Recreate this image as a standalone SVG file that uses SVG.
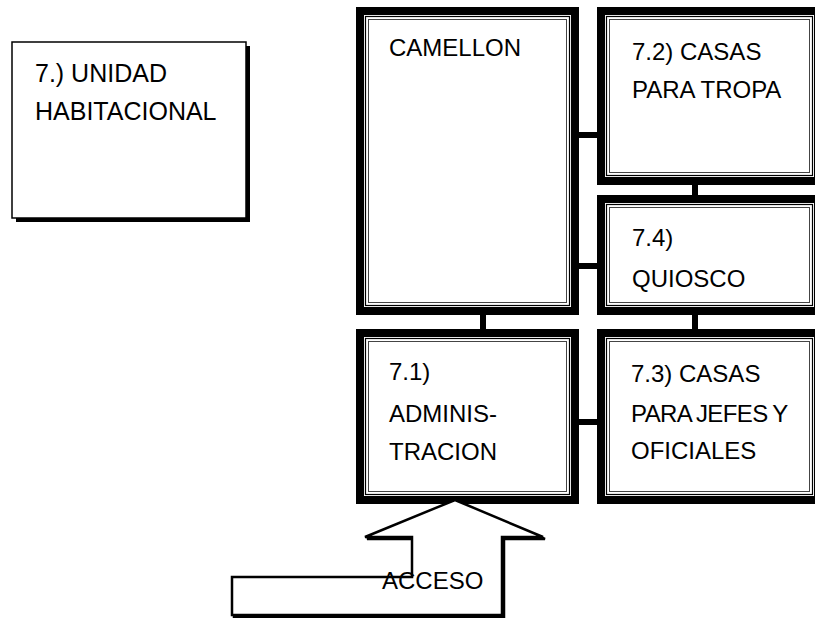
<svg xmlns="http://www.w3.org/2000/svg" width="815" height="618" viewBox="0 0 815 618">
<style>
.thick{fill:#fff;stroke:#000;stroke-width:8}
.thin1{fill:none;stroke:#000;stroke-width:1.2}
.thin2{fill:none;stroke:#444;stroke-width:1}
.t{font-family:"Liberation Sans",Arial,sans-serif;font-size:24px;fill:#000}
.big{font-size:25px}
.conn{stroke:#000;stroke-width:6;fill:none}
</style>
<rect width="815" height="618" fill="#fff"/>
<g id="connectors">
<line class="conn" x1="576" y1="135" x2="600" y2="135"/>
<line class="conn" x1="576" y1="266" x2="600" y2="266"/>
<line class="conn" x1="695" y1="182" x2="695" y2="198"/>
<line class="conn" x1="695" y1="312" x2="695" y2="332"/>
<line class="conn" x1="483" y1="312" x2="483" y2="332"/>
<line class="conn" x1="576" y1="422" x2="600" y2="422"/>
</g>
<g id="unidad">
<rect x="16" y="46" width="234" height="176" fill="#000"/>
<rect x="12" y="42" width="234" height="176" fill="#fff" stroke="#000" stroke-width="1.5"/>
<text class="t big" x="35" y="82">7.) UNIDAD</text>
<text class="t big" x="35" y="120">HABITACIONAL</text>
</g>
<g id="camellon">
<rect class="thick" x="360" y="11" width="215" height="300"/>
<rect class="thin1" x="365.5" y="16.5" width="204" height="289"/>
<rect class="thin2" x="368.5" y="19.5" width="198" height="283"/>
<text class="t" x="389" y="56">CAMELLON</text>
</g>
<g id="casas-tropa">
<rect class="thick" x="601" y="11" width="217" height="170"/>
<rect class="thin1" x="606.5" y="16.5" width="206" height="159"/>
<rect class="thin2" x="609.5" y="19.5" width="200" height="153"/>
<text class="t" x="632" y="60">7.2) CASAS</text>
<text class="t" x="632" y="98">PARA TROPA</text>
</g>
<g id="quiosco">
<rect class="thick" x="601" y="199" width="217" height="112"/>
<rect class="thin1" x="606.5" y="204.5" width="206" height="101"/>
<rect class="thin2" x="609.5" y="207.5" width="200" height="95"/>
<text class="t" x="632" y="246">7.4)</text>
<text class="t" x="632" y="287">QUIOSCO</text>
</g>
<g id="administracion">
<rect class="thick" x="360" y="333" width="215" height="167"/>
<rect class="thin1" x="365.5" y="338.5" width="204" height="156"/>
<rect class="thin2" x="368.5" y="341.5" width="198" height="150"/>
<text class="t" x="389" y="380">7.1)</text>
<text class="t" x="389" y="422">ADMINIS-</text>
<text class="t" x="389" y="460">TRACION</text>
</g>
<g id="casas-jefes">
<rect class="thick" x="601" y="333" width="217" height="167"/>
<rect class="thin1" x="606.5" y="338.5" width="206" height="156"/>
<rect class="thin2" x="609.5" y="341.5" width="200" height="150"/>
<text class="t" x="631" y="382">7.3) CASAS</text>
<text class="t" x="631" y="422" letter-spacing="-0.6" word-spacing="-1">PARA JEFES Y</text>
<text class="t" x="631" y="459">OFICIALES</text>
</g>
<g id="acceso">
<polygon points="457,502 545,539 504,539 504,617 234,617 234,579 414,579 414,539 367,539" fill="none" stroke="#000" stroke-width="2.5"/>
<polygon points="455,500 543,537 502,537 502,615 232,615 232,577 412,577 412,537 365,537" fill="#fff" stroke="#000" stroke-width="2.5"/>
<text class="t" x="382" y="589">ACCESO</text>
</g>
</svg>
